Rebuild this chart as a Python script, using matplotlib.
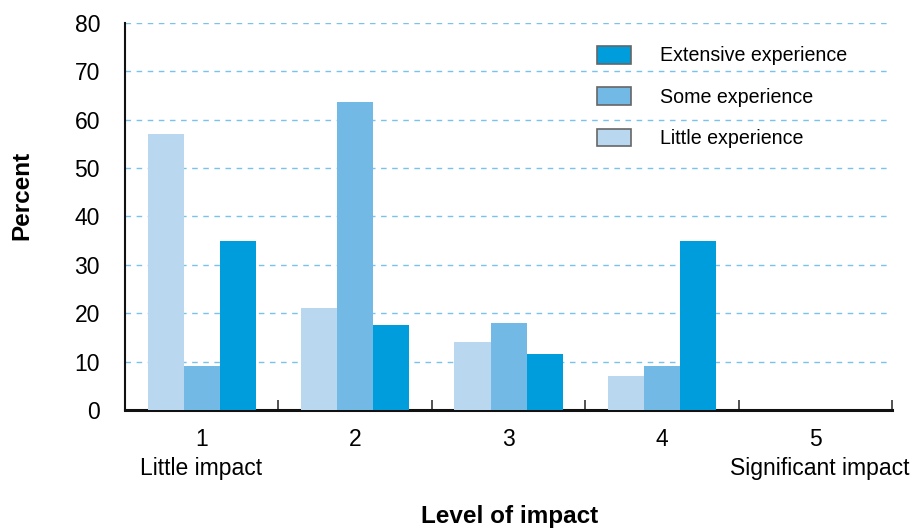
import matplotlib.pyplot as plt
import numpy as np
from matplotlib.patches import Patch

plt.rcParams['font.family'] = ['Liberation Sans', 'DejaVu Sans']

levels = ['1', '2', '3', '4', '5']
little = [57, 21, 14, 7, 0]
some = [9, 63.6, 18, 9, 0]
extensive = [35, 17.5, 11.6, 35, 0]

series_names = ['Little experience', 'Some experience', 'Extensive experience']
colors = ['#b9d8f0', '#72b9e6', '#009ddc']

fig = plt.figure(figsize=(9.14, 5.32), dpi=100)
ax = fig.add_axes([0.1368, 0.2293, 0.8392, 0.7275])

x = np.arange(1, len(levels) + 1)
w = 0.235
for i, (vals, c) in enumerate(zip([little, some, extensive], colors)):
    ax.bar(x + (i - 1) * w, vals, width=w, color=c, zorder=3)

ax.set_xlim(0.5, 5.5)
ax.set_ylim(0, 80)
ax.set_yticks(range(0, 81, 10))
ax.set_xticks(x)
ax.set_xticklabels(levels)
ax.set_xticks(np.arange(0.5, 5.6, 1), minor=True)
ax.tick_params(axis='x', which='major', length=0, labelsize=16.5, pad=13)
ax.tick_params(axis='x', which='minor', direction='in', length=7, width=1.3, color='#444444')
ax.tick_params(axis='y', length=0, labelsize=16.5, pad=18)

ax.yaxis.grid(True, linestyle=(0, (4, 4)), color='#79c2ec', linewidth=1, zorder=0)
for s in ['top', 'right']:
    ax.spines[s].set_visible(False)
ax.spines['left'].set_linewidth(1.5)
ax.spines['bottom'].set_linewidth(2.2)
ax.spines['left'].set_color('#111111')
ax.spines['bottom'].set_color('#111111')

# axis titles placed in figure coordinates
fig.text(22 / 914, 1 - 195 / 532, 'Percent', fontsize=17.5, fontweight='bold',
         rotation=90, ha='center', va='center')
fig.text(510 / 914, 1 - 516 / 532, 'Level of impact', fontsize=17.5, fontweight='bold',
         ha='center', va='center')

fig.text(140 / 914, 1 - 469 / 532, 'Little impact', fontsize=16.5, ha='left', va='center')
fig.text(910 / 914, 1 - 469 / 532, 'Significant impact', fontsize=16.5, ha='right', va='center')

handles = [Patch(facecolor=c, edgecolor='#666666', linewidth=1.2) for c in colors]
ax.legend(handles[::-1], series_names[::-1], loc='upper left',
          bbox_to_anchor=(597 / 914, 1 - 46 / 532), bbox_transform=fig.transFigure,
          frameon=False, fontsize=14.1, borderpad=0, borderaxespad=0,
          handlelength=1.75, handleheight=1.0, handletextpad=1.45, labelspacing=1.12)

fig.savefig('out.png', dpi=100)
